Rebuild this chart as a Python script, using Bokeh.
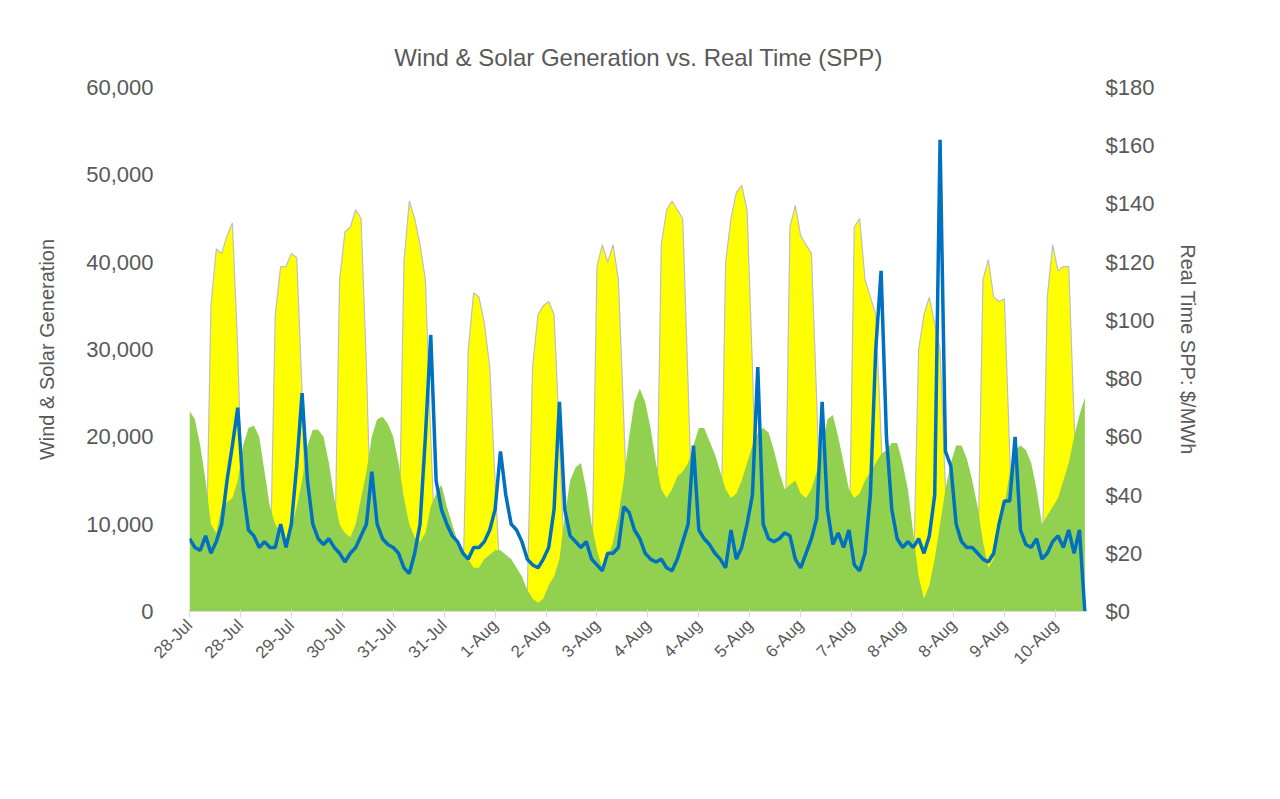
import datetime
from bokeh.plotting import figure
from bokeh.models import Range1d, LinearAxis, FixedTicker, Legend, LegendItem, NumeralTickFormatter
from bokeh.embed import file_html
from bokeh.resources import INLINE
import math

solar_days = [
 [0,0,0,2000,35000,41500,41000,43000,44500,30000,8000,0],
 [0,0,0,3000,34000,39500,39500,41000,40500,25000,5000,0],
 [0,0,0,3000,38000,43500,44000,46000,45000,28000,6000,0],
 [0,0,0,5000,40000,47000,45000,42000,38000,20000,4000,0],
 [0,0,0,3000,30000,36500,36000,33000,28000,15000,3000,0],
 [0,0,0,2000,28000,34000,35000,35500,34000,20000,4000,0],
 [0,0,0,3000,39500,42000,40000,42000,38000,22000,5000,0],
 [0,0,0,4000,42000,46000,47000,46000,45000,26000,6000,0],
 [0,0,0,4000,40000,45000,48000,48800,46000,28000,6000,0],
 [0,0,0,4000,44000,46500,43000,42000,41000,24000,5000,0],
 [0,0,0,5000,44000,45000,38000,36000,34000,20000,4000,0],
 [0,0,0,3000,30000,34000,36000,33000,30000,14000,3000,0],
 [0,0,0,4000,38000,40300,36000,35500,35800,18000,4000,0],
 [0,0,0,4000,36000,42000,39000,39500,39500,22000,6000,0],
]
wind_days = [
 [23000,22000,19000,15000,10000,9000,12000,12500,13000,15000,19000,21000],
 [21300,20000,16000,12000,10000,9000,8000,9500,12000,15000,19000,20800],
 [20800,20000,17000,13000,10000,9000,8500,10000,13000,16000,20000,22000],
 [22300,21500,20000,17000,13000,10000,8500,8000,9000,12000,13500,14500],
 [12000,10000,8000,7000,6000,5000,5000,6000,6500,7000,7000,6500],
 [6000,5000,4000,2500,1500,1000,1500,3000,4000,6000,11000,15000],
 [16500,17000,14000,10000,7000,5000,6000,8000,11000,15000,20000,24000],
 [25500,24000,21000,17000,14000,13000,14000,15500,16000,17000,19000,21000],
 [21000,19500,18000,16000,14000,13000,13500,15000,17000,19000,20500,21000],
 [20500,18500,16000,14000,14500,15000,13500,13000,14000,16000,19000,22000],
 [22500,20000,17000,14000,13000,13500,15000,16000,17000,18000,18500,19300],
 [19300,17000,14000,9000,4000,1500,3000,6000,10000,14000,17000,19000],
 [19000,17500,15000,12000,8000,5000,6000,9000,12000,16000,18500,19000],
 [18500,17000,14000,10000,11000,12000,13000,15000,17000,20000,22500,24500],
]
price_days = [
 [25,22,21,26,20,24,30,45,57,70,42,28],
 [26,22,24,22,22,30,22,30,50,75,45,30],
 [25,23,25,22,20,17,20,22,26,30,48,30],
 [25,23,22,20,15,13,20,30,60,95,45,35],
 [30,26,24,20,18,22,22,24,28,35,55,40],
 [30,28,24,18,16,15,18,22,35,72,35,26],
 [24,22,24,18,16,14,20,20,22,36,34,28],
 [25,20,18,17,18,15,14,18,24,30,57,28],
 [25,23,20,18,15,28,18,22,30,40,84,30],
 [25,24,25,27,26,18,15,20,25,32,72,35],
 [23,27,22,28,16,14,20,40,90,117,60,35],
 [25,22,24,22,25,20,26,40,162,55,50,30],
 [24,22,22,20,18,17,20,30,38,38,60,28],
 [23,22,25,18,20,24,26,22,28,20,28,0],
]
start_date = datetime.datetime(2020, 7, 28)
step_hours = 2
tick_hours = [19 * k for k in range(18)]

solar = [v for d in solar_days for v in d]
wind = [v for d in wind_days for v in d]
price = [v for d in price_days for v in d]
hours = [i * step_hours for i in range(len(solar))]

GRAY = "#595959"
FONT = "Liberation Sans"
p = figure(frame_width=898, frame_height=524, output_backend="svg", toolbar_location=None,
           x_range=Range1d(0, hours[-1] + 1), y_range=Range1d(0, 60000),
           min_border_left=189, min_border_right=177, min_border_top=87, min_border_bottom=172)
p.title.text = "Wind & Solar Generation vs. Real Time (SPP)"
p.title.align = "center"
p.title.text_font = FONT
p.title.text_font_size = "24px"
p.title.text_font_style = "normal"
p.title.text_color = GRAY
p.title.standoff = 34
p.outline_line_color = None
p.border_fill_color = "white"
p.xgrid.visible = False
p.ygrid.visible = False
p.extra_y_ranges = {"price": Range1d(0, 180)}

s = p.varea(x=hours, y1=0, y2=solar, fill_color="#FFFF00")
p.line(hours, solar, line_color="#BFBFBF", line_width=1.2)
w = p.varea(x=hours, y1=0, y2=wind, fill_color="#92D050")
l = p.line(hours, price, line_color="#0070C0", line_width=3.5, y_range_name="price")

p.yaxis.ticker = FixedTicker(ticks=list(range(0, 60001, 10000)))
p.yaxis.formatter = NumeralTickFormatter(format="0,0")
ra = LinearAxis(y_range_name="price", ticker=FixedTicker(ticks=list(range(0, 181, 20))),
                formatter=NumeralTickFormatter(format="$0"), axis_label="Real Time SPP: $/MWh")
p.add_layout(ra, "right")
p.yaxis[0].axis_label = "Wind & Solar Generation"
for ax in p.yaxis:
    ax.axis_line_color = None
    ax.major_tick_line_color = None
    ax.minor_tick_line_color = None
    ax.major_label_text_font_size = "22px"
    ax.major_label_text_color = GRAY
    ax.major_label_text_font = FONT
    ax.axis_label_text_font_size = "20px"
    ax.axis_label_text_color = GRAY
    ax.axis_label_text_font_style = "normal"
    ax.axis_label_text_font = FONT
p.yaxis[0].axis_label_standoff = 25
ra.axis_label_standoff = 20
ra.major_label_standoff = 12
p.yaxis[0].major_label_standoff = 30

p.xaxis.ticker = FixedTicker(ticks=tick_hours)
p.xaxis.major_label_overrides = {h: (start_date + datetime.timedelta(hours=h)).strftime("%-d-%b") for h in tick_hours}
p.xaxis.major_label_orientation = math.pi / 4
p.xaxis.major_label_text_font_size = "17px"
p.xaxis.major_label_text_font = FONT
p.xaxis.major_label_text_color = GRAY
p.xaxis.axis_line_color = "#D9D9D9"
p.xaxis.major_tick_line_color = "#D9D9D9"
p.xaxis.minor_tick_line_color = None

legend = Legend(items=[LegendItem(label="Actual Wind", renderers=[w]),
                       LegendItem(label="Actual Solar", renderers=[s]),
                       LegendItem(label="North Zn Real Time SPP", renderers=[l])],
                orientation="horizontal", location=(-20, -155), border_line_color=None,
                background_fill_alpha=0,
                label_text_font_size="22px", label_text_color=GRAY, glyph_width=58, glyph_height=22,
                spacing=45, label_text_font=FONT)
p.add_layout(legend, "center")

open("out.html", "w").write(file_html(p, INLINE))
